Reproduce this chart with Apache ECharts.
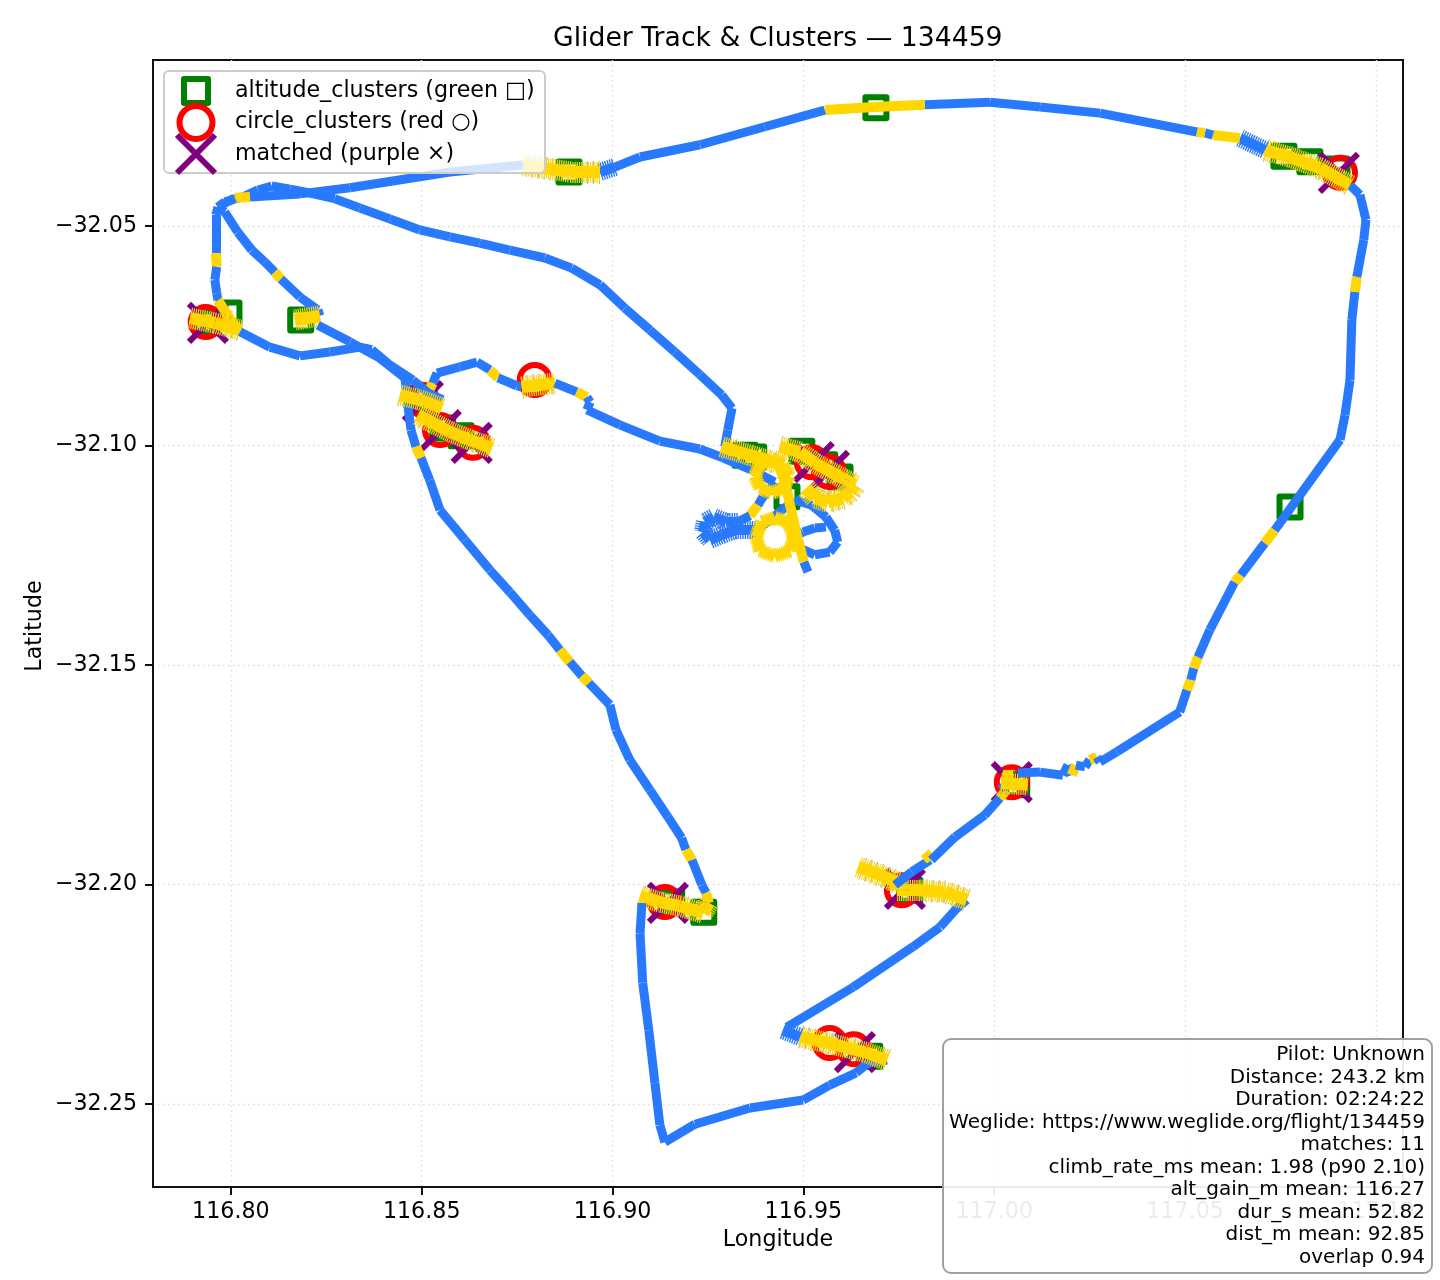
<!DOCTYPE html>
<html><head><meta charset="utf-8">
<style>html,body{margin:0;padding:0;background:#fff}#c{width:1440px;height:1280px}</style>
<script src="https://cdn.jsdelivr.net/npm/echarts@6/dist/echarts.min.js"></script>
</head><body><div id="c"></div>
<script>
// Each track point: [longitude, latitude, phase of the stretch that starts here]
// phase: 0 glide, 1 short climb, 2 circling climb, 3 circling sink, 4 wide climbing turn
const legInterior = [[116.9294,-32.1003,0],[116.9302,-32.0965,0],[116.9313,-32.0915,0],[116.9286,-32.0885,0],[116.9229,-32.0839,0],[116.9163,-32.0787,0],[116.9098,-32.0737,0],[116.9032,-32.0687,0],[116.8967,-32.0634,0],[116.8893,-32.0596,0],[116.8823,-32.0573,0],[116.8731,-32.0555,0],[116.8652,-32.0539,0],[116.8574,-32.0525,0],[116.8495,-32.0509,0],[116.8417,-32.0484,0],[116.8338,-32.0459,0],[116.8272,-32.0438,0],[116.8207,-32.0425,0],[116.8155,-32.0416,0],[116.8107,-32.0409,0],[116.8071,-32.0418,0],[116.8031,-32.0434,0],[116.7984,-32.0445,0],[116.7966,-32.0457,0],[116.7961,-32.0475,0],[116.7961,-32.0562,1],[116.7963,-32.0593,0],[116.7958,-32.0623,0],[116.7963,-32.0653,0],[116.7966,-32.0669,1],[116.8005,-32.0721,1],[116.8024,-32.0737,2],[116.7958,-32.0721,2],[116.7893,-32.0710,2]];
const legWestLow = [[116.8024,-32.0741,0],[116.8102,-32.0776,0],[116.8181,-32.0796,0],[116.8259,-32.0787,0],[116.8338,-32.0776,0],[116.8369,-32.0782,0],[116.8417,-32.0817,0],[116.8477,-32.0851,0],[116.8516,-32.0880,0],[116.8555,-32.0896,0]];
const legThermalA = [[116.8443,-32.0885,2],[116.8495,-32.0896,2],[116.8553,-32.0915,2]];
const legThermalB = [[116.8490,-32.0931,2],[116.8574,-32.0969,2],[116.8626,-32.0987,2],[116.8684,-32.1006,2]];
const legEastward = [[116.8516,-32.0880,1],[116.8529,-32.0858,0],[116.8540,-32.0835,0],[116.8600,-32.0821,0],[116.8645,-32.0810,0],[116.8679,-32.0828,1],[116.8700,-32.0846,0],[116.8749,-32.0864,0],[116.8762,-32.0867,2],[116.8849,-32.0858,0],[116.8906,-32.0878,1],[116.8933,-32.0890,0],[116.8941,-32.0901,0],[116.8933,-32.0919,0],[116.9019,-32.0953,0],[116.9124,-32.0990,0],[116.9229,-32.1008,0],[116.9289,-32.1028,0],[116.9365,-32.1056,0]];
const legCentralBlue = [[116.9365,-32.1056,0],[116.9425,-32.1083,0],[116.9412,-32.1101,0],[116.9394,-32.1117,0],[116.9381,-32.1136,1],[116.9360,-32.1160,0],[116.9328,-32.1174,3],[116.9297,-32.1174,3],[116.9265,-32.1163,3],[116.9242,-32.1174,3],[116.9237,-32.1197,3],[116.9255,-32.1215,3],[116.9286,-32.1204,3],[116.9321,-32.1193,3],[116.9378,-32.1193,0],[116.9412,-32.1170,0],[116.9444,-32.1147,0],[116.9478,-32.1124,0],[116.9522,-32.1136,0],[116.9559,-32.1163,0],[116.9582,-32.1193,0],[116.9590,-32.1220,0],[116.9569,-32.1243,0],[116.9530,-32.1249,0],[116.9491,-32.1234,0],[116.9472,-32.1211,0],[116.9499,-32.1197,0],[116.9530,-32.1188,0],[116.9559,-32.1186,0]];
const legCentralClimb = [[116.9512,-32.1288,0],[116.9501,-32.1265,1],[116.9486,-32.1215,1],[116.9465,-32.1136,1],[116.9454,-32.1090,1],[116.9436,-32.1047,1]];
const legRingUpper = [[116.9417,-32.1031,4],[116.9449,-32.1042,4],[116.9462,-32.1070,4],[116.9449,-32.1097,4],[116.9417,-32.1108,4],[116.9386,-32.1097,4],[116.9373,-32.1070,4],[116.9386,-32.1042,4],[116.9417,-32.1031,4]];
const legRingLower = [[116.9425,-32.1165,4],[116.9459,-32.1174,4],[116.9475,-32.1208,4],[116.9465,-32.1240,4],[116.9425,-32.1252,4],[116.9386,-32.1240,4],[116.9376,-32.1208,4],[116.9391,-32.1174,4],[116.9425,-32.1165,4]];
const legBandLow = [[116.9286,-32.1003,2],[116.9360,-32.1022,2],[116.9431,-32.1040,2]];
const legBandHigh = [[116.9438,-32.1003,2],[116.9491,-32.1015,2],[116.9530,-32.1040,2],[116.9582,-32.1065,2],[116.9635,-32.1090,2],[116.9622,-32.1106,2],[116.9603,-32.1120,2],[116.9564,-32.1129,2],[116.9530,-32.1120,2],[116.9507,-32.1097,2]];
const legSouth = [[116.7966,-32.0457,0],[116.7984,-32.0468,0],[116.8018,-32.0514,0],[116.8055,-32.0555,0],[116.8089,-32.0582,0],[116.8115,-32.0605,1],[116.8131,-32.0621,0],[116.8181,-32.0662,0],[116.8228,-32.0691,0],[116.8233,-32.0705,2],[116.8168,-32.0714,2]];
const legSouthMid = [[116.8228,-32.0726,0],[116.8312,-32.0764,0],[116.8390,-32.0801,0],[116.8456,-32.0846,0],[116.8464,-32.0908,0],[116.8472,-32.0965,0],[116.8485,-32.1003,1],[116.8498,-32.1028,0],[116.8521,-32.1079,0],[116.8548,-32.1147,0],[116.8613,-32.1215,0],[116.8679,-32.1284,0],[116.8731,-32.1334,0],[116.8783,-32.1386,0],[116.8831,-32.1432,0],[116.8862,-32.1466,1],[116.8888,-32.1493,0],[116.8920,-32.1525,1],[116.8938,-32.1541,0],[116.8993,-32.1591,0],[116.9009,-32.1648,0],[116.9045,-32.1716,0],[116.9098,-32.1785,0],[116.9145,-32.1846,0],[116.9181,-32.1894,0],[116.9192,-32.1921,1],[116.9208,-32.1944,0],[116.9234,-32.2001,0],[116.9245,-32.2019,1],[116.9252,-32.2042,2],[116.9237,-32.2065,2],[116.9176,-32.2049,2],[116.9124,-32.2040,2],[116.9072,-32.2026,2]];
const legSouthWest = [[116.9077,-32.2042,0],[116.9072,-32.2111,0],[116.9079,-32.2224,0],[116.9095,-32.2332,0],[116.9111,-32.2452,0],[116.9124,-32.2548,0],[116.9137,-32.2587,0],[116.9216,-32.2546,0],[116.9360,-32.2509,0],[116.9499,-32.2491,0],[116.9569,-32.2457,0],[116.9638,-32.2429,0],[116.9669,-32.2407,0],[116.9719,-32.2400,2],[116.9661,-32.2382,2],[116.9588,-32.2366,2],[116.9491,-32.2347,3],[116.9446,-32.2332,3]];
const legSouthEast = [[116.9457,-32.2325,0],[116.9630,-32.2234,0],[116.9787,-32.2142,0],[116.9858,-32.2097,0],[116.9902,-32.2054,0],[116.9928,-32.2035,2],[116.9871,-32.2017,2],[116.9805,-32.2013,2],[116.9745,-32.2013,2],[116.9745,-32.1995,2],[116.9701,-32.1978,2],[116.9643,-32.1960,2]];
const legEastClimb = [[116.9740,-32.2001,0],[116.9784,-32.1971,0],[116.9832,-32.1944,1],[116.9818,-32.1928,1],[116.9835,-32.1944,0],[116.9897,-32.1892,0],[116.9975,-32.1842,0],[117.0015,-32.1803,1],[117.0031,-32.1785,0],[117.0018,-32.1769,2],[117.0088,-32.1773,0]];
const legEastSpike = [[117.0036,-32.1739,1],[117.0036,-32.1767,1]];
const legEast = [[117.0062,-32.1746,0],[117.0120,-32.1744,0],[117.0180,-32.1751,0],[117.0193,-32.1728,0],[117.0203,-32.1751,1],[117.0214,-32.1728,0],[117.0238,-32.1732,0],[117.0250,-32.1716,1],[117.0269,-32.1710,0],[117.0277,-32.1721,0],[117.0321,-32.1698,0],[117.0486,-32.1607,0],[117.0505,-32.1557,1],[117.0515,-32.1534,0],[117.0523,-32.1507,1],[117.0534,-32.1482,0],[117.0565,-32.1420,0],[117.0630,-32.1311,1],[117.0646,-32.1295,0],[117.0709,-32.1222,1],[117.0735,-32.1193,0],[117.0801,-32.1113,0],[117.0906,-32.0987,0],[117.0919,-32.0931,0],[117.0932,-32.0851,0],[117.0937,-32.0714,0],[117.0945,-32.0650,1],[117.0950,-32.0616,0],[117.0968,-32.0532,0],[117.0974,-32.0486,0],[117.0958,-32.0429,0],[117.0932,-32.0407,2],[117.0853,-32.0368,2],[117.0775,-32.0343,2],[117.0709,-32.0327,3],[117.0644,-32.0300,1],[117.0573,-32.0293,0],[117.0552,-32.0288,1],[117.0531,-32.0286,0]];
const legNorth = [[117.0531,-32.0286,0],[117.0277,-32.0243,0],[117.0120,-32.0229,0],[116.9989,-32.0218,0],[116.9818,-32.0224,1],[116.9687,-32.0229,1],[116.9556,-32.0236,0],[116.9399,-32.0274,0],[116.9229,-32.0315,0],[116.9072,-32.0343,0],[116.9006,-32.0366,3],[116.8967,-32.0377,2],[116.8888,-32.0377,2],[116.8765,-32.0361,0],[116.8574,-32.0377,0],[116.8312,-32.0413,0],[116.8181,-32.0427,0],[116.8050,-32.0434,1],[116.8010,-32.0436,0],[116.7966,-32.0457,0]];
const trackLegs = [legCentralBlue, legEastward, legInterior, legWestLow, legSouth, legSouthMid, legThermalA, legThermalB, legSouthWest, legSouthEast, legEastClimb, legEastSpike, legEast, legNorth, legBandLow, legBandHigh, legRingUpper, legRingLower, legCentralClimb];

const altitudeClusters = [[116.8886,-32.0377],[116.9690,-32.0231],[117.0759,-32.0341],[117.0827,-32.0354],[117.0898,-32.0370],[117.0775,-32.1140],[116.7995,-32.0698],[116.7934,-32.0719],[116.8183,-32.0714],[116.9347,-32.1022],[116.9370,-32.1026],[116.9496,-32.1013],[116.9596,-32.1072],[116.9457,-32.1117],[116.9556,-32.1044],[116.8603,-32.0978],[116.8555,-32.0960],[116.8506,-32.0894],[116.9155,-32.2040],[116.9239,-32.2063],[116.9779,-32.2013],[116.9674,-32.2391],[117.0059,-32.1773]];
const circleClusters = [[116.7934,-32.0719],[116.8796,-32.0851],[116.8500,-32.0896],[116.8548,-32.0965],[116.8634,-32.0994],[116.9137,-32.2040],[116.9758,-32.2013],[116.9569,-32.2361],[116.9632,-32.2375],[117.0046,-32.1767],[117.0906,-32.0379],[116.9522,-32.1038],[116.9567,-32.1060]];
const matched = [[116.7940,-32.0721],[116.8503,-32.0899],[116.8550,-32.0965],[116.8631,-32.0994],[116.9145,-32.2042],[116.9766,-32.2010],[116.9635,-32.2382],[117.0046,-32.1767],[117.0903,-32.0379],[116.9527,-32.1038],[116.9567,-32.1058]];

const lonTicks = [116.80,116.85,116.90,116.95,117.00,117.05,117.10];
const latTicks = [-32.25,-32.20,-32.15,-32.10,-32.05];
const titleText = 'Glider Track & Clusters \u2014 134459';
const legendNames = ['altitude_clusters (green \u25A1)','circle_clusters (red \u25CB)','matched (purple \u00D7)'];
const infoLines = ['Pilot: Unknown','Distance: 243.2 km','Duration: 02:24:22','Weglide: https://www.weglide.org/flight/134459','matches: 11','climb_rate_ms mean: 1.98 (p90 2.10)','alt_gain_m mean: 116.27','dur_s mean: 52.82','dist_m mean: 92.85','overlap 0.94'];

const BLUE='#2979ff', GOLD='#ffd600', FONT='"DejaVu Sans"';
const xPath='path://M0 0L10 10M10 0L0 10';
const segs=[];
function seg(a,b,color,width,type,op){segs.push({coords:[[a[0],a[1]],[b[0],b[1]]],lineStyle:{color,width,type:type||'solid',opacity:op==null?1:op,cap:'butt'}});}
trackLegs.forEach(leg=>{
  for(let i=0;i<leg.length-1;i++){
    const a=leg[i],b=leg[i+1],p=a[2];
    if(p===0) seg(a,b,BLUE,9);
    else if(p===1) seg(a,b,GOLD,10);
    else if(p===2){ seg(a,b,BLUE,23,[1,5],.55); seg(a,b,GOLD,21,[1.2,1]); seg(a,b,GOLD,12); }
    else if(p===3){ seg(a,b,GOLD,16,[1,7],.6); seg(a,b,BLUE,18,[1.4,1]); seg(a,b,BLUE,10); }
    else { seg(a,b,GOLD,14,[1.4,.7]); seg(a,b,GOLD,10); }
  }
});
const tickFmt=v=>v.toFixed(2).replace('-','\u2212');
const lab=(vals,m)=>({customValues:vals,formatter:tickFmt,fontFamily:FONT,fontSize:22.2,color:'#000',margin:m});
const tick=(vals)=>({customValues:vals,length:8,lineStyle:{color:'#111',width:2}});
const common={type:'value',nameLocation:'middle',nameMoveOverlap:false,
  axisLine:{show:true,onZero:false,lineStyle:{color:'#111',width:2}},
  splitLine:{show:true,lineStyle:{color:'#dcdcdc',width:1.4,type:[1.5,3.5]}}};
const scat=(name,data,symbol,size,color,bw)=>({type:'scatter',name,data,symbol,symbolSize:size,z:2,silent:true,clip:true,
  itemStyle:{color:'none',borderColor:color,borderWidth:bw,borderJoin:'round',opacity:1}});

const chart=echarts.init(document.getElementById('c'),null,{renderer:'canvas',width:1440,height:1280});
chart.setOption({
  animation:false,backgroundColor:'#fff',
  title:{text:titleText,left:548,top:21,textStyle:{fontFamily:FONT,fontSize:26.67,fontWeight:'normal',color:'#000'}},
  grid:{left:153,top:60,right:37,bottom:93,show:true,borderColor:'#111',borderWidth:2,containLabel:false},
  xAxis:Object.assign({},common,{min:116.7796,max:117.1071,name:'Longitude',nameGap:42,
    nameTextStyle:{fontFamily:FONT,fontSize:22.2,color:'#000'},
    axisLabel:lab(lonTicks,14),axisTick:tick(lonTicks)}),
  yAxis:Object.assign({},common,{min:-32.2689,max:-32.0122,name:'Latitude',nameGap:107,
    nameTextStyle:{fontFamily:FONT,fontSize:22.2,color:'#000',padding:[0,5,0,0]},
    axisLabel:lab(latTicks,16),axisTick:tick(latTicks)}),
  legend:{show:true,orient:'vertical',left:164,top:68,padding:[0,10,0,7],itemWidth:56,itemHeight:40,itemGap:-14.5,z:6,
    selectedMode:false,symbolKeepAspect:true,textStyle:{fontFamily:FONT,fontSize:22.2,color:'#000'},
    data:[
      {name:legendNames[0],icon:'path://M0 0M56 40M10 8L34 8L34 32L10 32Z',itemStyle:{color:'none',borderColor:'#008000',borderWidth:6,borderJoin:'round'}},
      {name:legendNames[1],icon:'path://M0 0M56 40M38.5 20A16.5 16.5 0 1 1 5.5 20A16.5 16.5 0 1 1 38.5 20Z',itemStyle:{color:'none',borderColor:'#ff0000',borderWidth:6}},
      {name:legendNames[2],icon:'path://M0 0M56 40M3 1L41 39M41 1L3 39',itemStyle:{color:'none',borderColor:'#800080',borderWidth:6}}
    ]},
  series:[
    scat(legendNames[0],altitudeClusters,'rect',21,'#008000',6),
    scat(legendNames[1],circleClusters,'circle',30,'#ff0000',6),
    scat(legendNames[2],matched,xPath,38,'#800080',6),
    {type:'lines',name:'track',coordinateSystem:'cartesian2d',polyline:false,z:3,silent:true,data:segs,effect:{show:false},lineStyle:{curveness:0}}
  ],
  graphic:[
    {type:'rect',z:5,silent:true,shape:{x:164,y:71,width:381,height:102,r:5},style:{fill:'rgba(255,255,255,0.8)',stroke:'#cccccc',lineWidth:2}},
    {type:'rect',z:100,silent:true,shape:{x:943,y:1039,width:489,height:234,r:8},style:{fill:'rgba(255,255,255,0.92)',stroke:'#a0a0a0',lineWidth:2}},
    {type:'text',z:101,silent:true,x:1425,y:1044,style:{text:infoLines.join('\n'),align:'right',verticalAlign:'top',fill:'#000',font:'20px "DejaVu Sans"',lineHeight:22.5}}
  ]
});
</script></body></html>
